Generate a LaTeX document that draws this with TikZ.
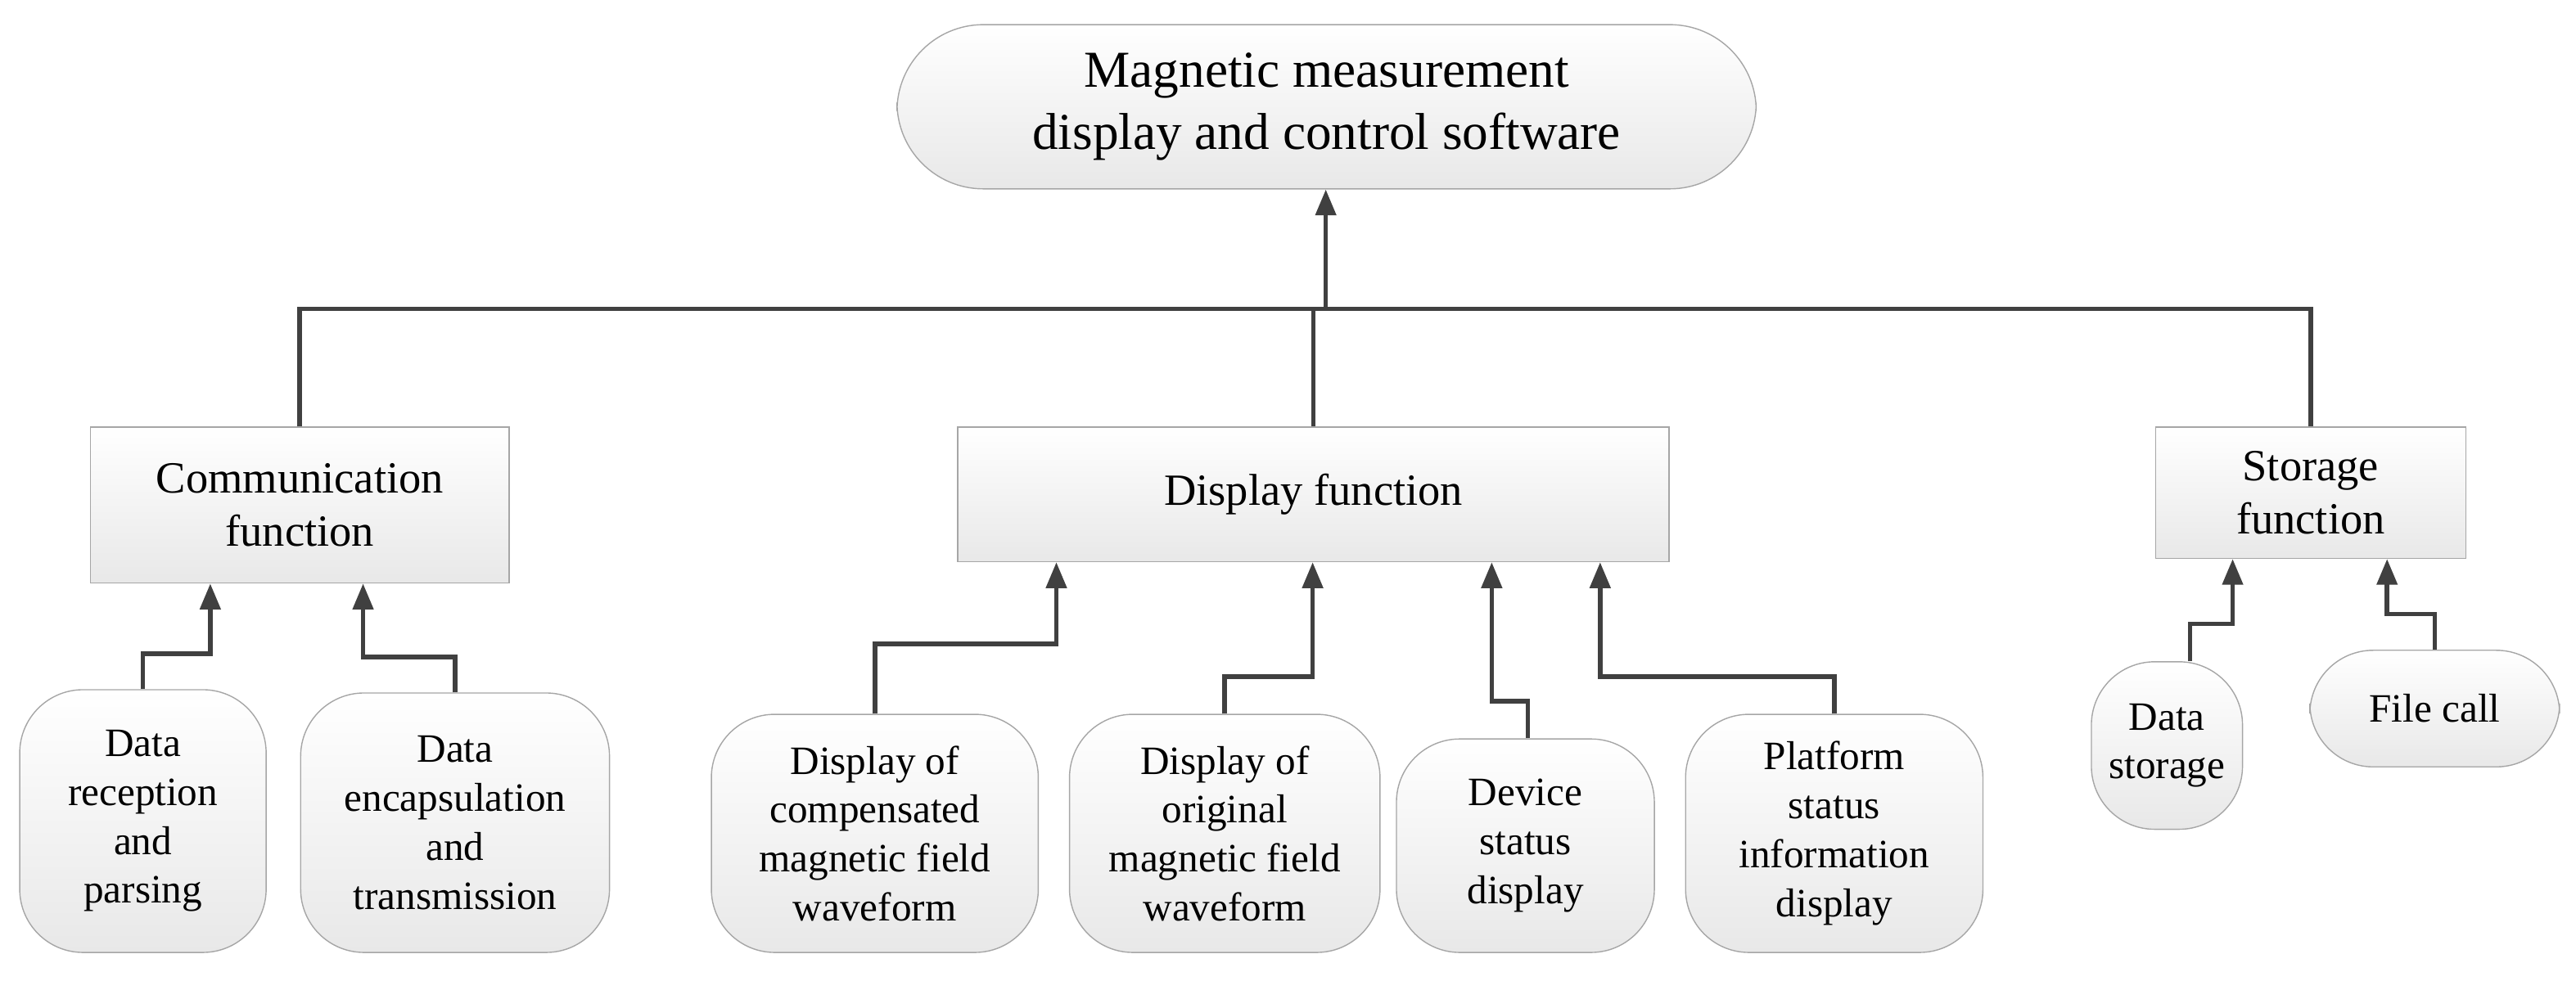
\documentclass[tikz,border=0pt]{standalone}
\usepackage{fontspec}
\setmainfont{Liberation Serif}
\usetikzlibrary{arrows.meta}
\begin{document}
\begin{tikzpicture}[x=0.02007cm,y=-0.02007cm,
 box/.style={draw=gray!70,top color=white,bottom color=gray!18,align=center,inner sep=0pt},
 rbox/.style={box,rounded corners=22},
 ln/.style={draw=black!75,line width=1.6pt},
 arr/.style={ln,-{Triangle[length=9pt,width=7pt]}}]
\useasboundingbox (0,0) rectangle (1568,597);
\node[rbox,minimum width=523*0.02007cm,minimum height=100*0.02007cm,font=\fontsize{18}{21.5}\selectfont,rounded corners=30] (top) at (807.5,65) {Magnetic measurement\\display and control software};
\tikzset{mid/.style={box,font=\fontsize{15.5}{18.7}\selectfont}}
\node[mid,minimum width=255*0.02007cm,minimum height=95*0.02007cm] (comm) at (182.5,307.5) {Communication\\function};
\node[mid,minimum width=433*0.02007cm,minimum height=82*0.02007cm] (disp) at (799.5,301) {Display function};
\node[mid,minimum width=189*0.02007cm,minimum height=80*0.02007cm] (stor) at (1406.5,300) {Storage\\function};
\tikzset{leaf/.style={rbox,font=\fontsize{14}{17}\selectfont}}
\node[leaf,minimum width=150*0.02007cm,minimum height=160*0.02007cm] (dr) at (87,500) {Data\\reception\\and\\parsing};
\node[leaf,minimum width=188*0.02007cm,minimum height=158*0.02007cm] (de) at (277,501) {Data\\encapsulation\\and\\transmission};
\node[leaf,minimum width=199*0.02007cm,minimum height=145*0.02007cm] (dc) at (532.5,507.5) {Display of\\compensated\\magnetic field\\waveform};
\node[leaf,minimum width=189*0.02007cm,minimum height=145*0.02007cm] (do) at (745.5,507.5) {Display of\\original\\magnetic field\\waveform};
\node[leaf,minimum width=157*0.02007cm,minimum height=130*0.02007cm] (dv) at (928.5,515) {Device\\status\\display};
\node[leaf,minimum width=181*0.02007cm,minimum height=145*0.02007cm] (pl) at (1116.5,507.5) {Platform\\status\\information\\display};
\node[leaf,minimum width=92*0.02007cm,minimum height=102*0.02007cm] (ds) at (1319,454) {Data\\storage};
\node[leaf,minimum width=152*0.02007cm,minimum height=71*0.02007cm] (fc) at (1482,431.5) {File call};
% top tree
\draw[arr] (807,188) coordinate (j) -- (top.south -| j);
\draw[ln] (comm.north) |- (j) -| (stor.north);
\draw[ln] (disp.north) -- (disp.north |- j);
% leaves
\draw[arr] (dr.north) |- (128,398) -- (comm.south -| 128,0);
\draw[arr] (de.north) |- (221,400) -- (comm.south -| 221,0);
\draw[arr] (dc.north) |- (643,392) -- (disp.south -| 643,0);
\draw[arr] (do.north) |- (799,412) -- (disp.south -| 799,0);
\draw[arr] (dv.north -| 930,0) |- (908,427) -- (disp.south -| 908,0);
\draw[arr] (pl.north) |- (974,412) -- (disp.south -| 974,0);
\draw[arr] (ds.north -| 1333,0) |- (1359,380) -- (stor.south -| 1359,0);
\draw[arr] (fc.north) |- (1453,374) -- (stor.south -| 1453,0);
\end{tikzpicture}
\end{document}
